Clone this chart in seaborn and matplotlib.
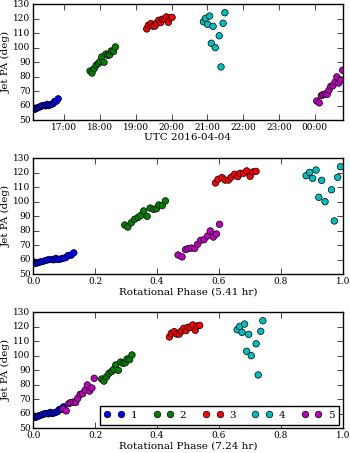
import numpy as np
import pandas as pd
import matplotlib
matplotlib.use('Agg')
from matplotlib import pyplot as plt
import matplotlib.dates as mdates
import seaborn as sns

# hours elapsed since first image, and jet position angle (deg), per sequence
t0 = pd.Timestamp('2016-04-04 16:07')

hrs_1 = [0.011, 0.043, 0.081, 0.119, 0.162, 0.216, 0.260, 0.308, 0.357, 0.395,
         0.433, 0.476, 0.519, 0.568, 0.611, 0.660, 0.709]
pa_1 = [58.5, 57.5, 58.0, 58.5, 58.8, 59.5, 60.0, 60.2, 60.0, 61.0,
        60.2, 60.5, 61.0, 61.5, 63.0, 63.2, 64.8]

hrs_2 = [1.601, 1.655, 1.715, 1.774, 1.834, 1.877, 1.931, 1.991, 2.045, 2.104,
         2.153, 2.196, 2.256, 2.310]
pa_2 = [84.0, 82.6, 85.6, 88.0, 89.2, 90.5, 93.7, 90.0, 95.7, 94.8,
        95.2, 97.8, 97.4, 100.6]

hrs_3 = [3.186, 3.230, 3.300, 3.354, 3.414, 3.462, 3.522, 3.576, 3.619, 3.679,
         3.733, 3.792, 3.841, 3.895]
pa_3 = [113.0, 115.5, 116.7, 115.0, 115.0, 117.0, 119.0, 117.4, 119.7, 119.7,
        121.3, 117.6, 120.6, 121.0]

hrs_4 = [4.772, 4.831, 4.885, 4.945, 4.993, 5.042, 5.102, 5.215, 5.264, 5.323, 5.372]
pa_4 = [118.0, 120.3, 116.2, 121.9, 103.1, 114.8, 100.1, 108.3, 86.8, 116.9, 124.2]

hrs_5 = [7.942, 8.012, 8.072, 8.115, 8.175, 8.234, 8.283, 8.337, 8.396, 8.456,
         8.505, 8.559, 8.613, 8.667]
pa_5 = [63.3, 62.0, 67.0, 67.7, 68.1, 67.9, 70.7, 73.4, 73.9, 76.4,
        79.9, 75.7, 77.8, 84.5]

periods = [5.41, 7.24]
seq_names = ['1', '2', '3', '4', '5']
seq_colors = ['b', 'g', 'r', 'c', 'm']

frames = []
for name, h, pa in zip(seq_names, [hrs_1, hrs_2, hrs_3, hrs_4, hrs_5],
                       [pa_1, pa_2, pa_3, pa_4, pa_5]):
    frames.append(pd.DataFrame({'seq': name, 'hours': h, 'pa': pa}))
df = pd.concat(frames, ignore_index=True)
df['utc'] = t0 + pd.to_timedelta(df['hours'], unit='h')
for p in periods:
    df['phase_%.2f' % p] = (df['hours'] / p) % 1.0

plt.style.use('classic')
plt.rcParams['figure.facecolor'] = 'white'
plt.rcParams['savefig.facecolor'] = 'white'
plt.rcParams['font.family'] = ['DejaVu Serif']
plt.rcParams['font.size'] = 6.5
plt.rcParams['axes.labelsize'] = 7.5
plt.rcParams['legend.fontsize'] = 7.5

fig, axes = plt.subplots(3, 1, figsize=(3.5, 4.53), dpi=100)
fig.subplots_adjust(left=0.095, right=0.979, top=0.9905, bottom=0.0545, hspace=0.328)

pal = dict(zip(seq_names, seq_colors))
kw = dict(hue='seq', palette=pal, s=22, edgecolor='k', linewidth=0.5)

ax = axes[0]
sns.scatterplot(data=df, x='utc', y='pa', ax=ax, legend=False, **kw)
ax.set_xlim(df['utc'].min(), df['utc'].max())
ax.xaxis.set_major_locator(mdates.HourLocator())
ax.xaxis.set_major_formatter(mdates.DateFormatter('%H:%M'))
ax.set_xlabel('UTC 2016-04-04')

for i, p in enumerate(periods):
    ax = axes[i + 1]
    sns.scatterplot(data=df, x='phase_%.2f' % p, y='pa', ax=ax,
                    legend=(i == 1), **kw)
    ax.set_xlim(0, 1)
    ax.set_xticks(np.arange(0, 1.01, 0.2))
    ax.set_xlabel('Rotational Phase (%.2f hr)' % p)

for ax in axes:
    ax.set_ylim(50, 130)
    ax.set_yticks(range(50, 131, 10))
    ax.set_ylabel('Jet PA (deg)', labelpad=2)
    ax.tick_params(direction='in', top=True, right=True, length=4, pad=2)
    ax.xaxis.labelpad = 1

handles, labels = axes[2].get_legend_handles_labels()
for h in handles:
    h.set_markeredgecolor('k')
    h.set_markeredgewidth(0.5)
axes[2].legend(handles, labels, loc='lower right', ncol=5, numpoints=2,
               scatterpoints=2, frameon=True, fancybox=False,
               borderpad=0.45, handletextpad=0.6, columnspacing=1.6,
               handlelength=1.9, borderaxespad=0.35)

plt.savefig('out.png', dpi=100)
